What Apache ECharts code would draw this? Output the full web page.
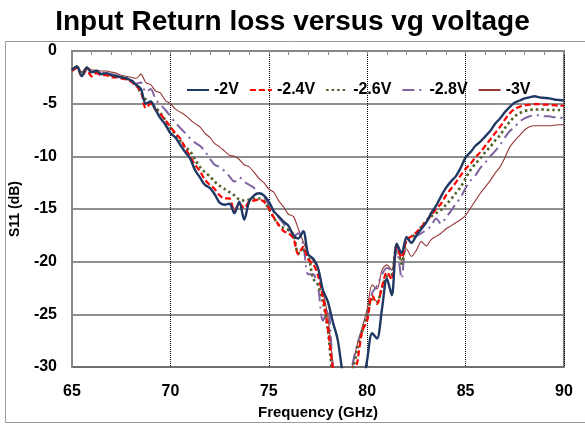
<!DOCTYPE html>
<html>
<head>
<meta charset="utf-8">
<script src="https://cdn.jsdelivr.net/npm/echarts@6/dist/echarts.min.js"></script>
<style>
html,body{margin:0;padding:0;background:#fff;}
#chart{width:585px;height:425px;}
</style>
</head>
<body>
<div id="chart"></div>
<script>
const freq = [65,65.25,65.5,65.75,66,66.25,66.5,66.75,67,67.25,67.5,67.75,68,68.25,68.5,68.75,69,69.25,69.5,69.75,
70,70.25,70.5,70.75,71,71.25,71.5,71.75,72,72.25,72.5,72.75,73,73.25,73.5,73.75,74,74.25,74.5,74.75,
75,75.25,75.5,75.75,76,76.25,76.5,76.75,77,77.25,77.5,77.75,78,78.25,78.5,78.75,79,79.25,79.5,79.75,
80,80.25,80.5,80.75,81,81.25,81.5,81.75,82,82.25,82.5,82.75,83,83.25,83.5,83.75,84,84.25,84.5,84.75,
85,85.25,85.5,85.75,86,86.25,86.5,86.75,87,87.25,87.5,87.75,88,88.25,88.5,88.75,89,89.25,89.5,89.75,90];

const v20 = [-1.8,-1.5,-2.4,-1.6,-2.0,-1.9,-2.2,-2.1,-2.3,-2.4,-2.5,-2.6,-2.8,-3.2,-3.6,-5.0,-4.8,-5.6,-6.4,-7.0,
-7.8,-8.2,-8.9,-9.6,-10.2,-11.3,-12.0,-12.7,-13.0,-13.6,-14.4,-14.6,-14.5,-15.4,-14.3,-16.0,-14.3,-13.7,-13.5,-13.7,
-14.3,-15.2,-15.7,-16.2,-16.6,-17.5,-17.8,-17.1,-19.3,-19.7,-20.6,-22.7,-23.8,-25.7,-27.4,-30.5,-32,-33,-33,-32,
-29.3,-26.8,-27.3,-24.5,-21.6,-23.2,-18.3,-19.2,-17.7,-18.2,-17.5,-16.9,-16.3,-15.4,-14.7,-13.8,-13.0,-12.4,-11.9,-11.1,
-10.1,-9.6,-9.0,-8.6,-8.1,-7.6,-6.9,-6.4,-5.8,-5.3,-4.9,-4.7,-4.5,-4.4,-4.3,-4.4,-4.45,-4.5,-4.6,-4.65,-4.7];

const v24 = [-1.9,-1.6,-2.4,-1.8,-2.4,-2.1,-2.3,-2.3,-2.5,-2.5,-2.6,-2.7,-2.9,-3.3,-3.8,-5.4,-5.0,-5.6,-6.0,-6.6,
-7.2,-7.8,-8.3,-9.2,-10.0,-10.8,-11.4,-12.2,-12.7,-13.1,-13.7,-14.0,-14.0,-15.2,-14.5,-14.9,-14.3,-14.2,-14.1,-14.3,
-14.9,-15.8,-16.5,-17.1,-17.3,-17.8,-19.3,-18.6,-19.8,-20.2,-21.3,-23.4,-26.3,-30.1,-33,-34,-34,-32,-29.5,-26.6,
-25.6,-23.2,-24.0,-22.4,-21.0,-21.7,-18.6,-19.6,-17.9,-17.6,-17.2,-16.7,-16.2,-15.6,-15.0,-14.5,-13.7,-13.1,-12.5,-11.8,
-11.2,-10.7,-10.1,-9.6,-9.0,-8.4,-7.8,-7.2,-6.5,-5.9,-5.5,-5.3,-5.15,-5.1,-5.05,-5.05,-5.1,-5.1,-5.15,-5.2,-5.2];

const v26 = [-1.8,-1.5,-2.2,-1.6,-2.1,-2.0,-2.2,-2.2,-2.3,-2.4,-2.5,-2.6,-2.8,-3.2,-4.0,-4.6,-5.0,-5.4,-5.9,-6.6,
-7.3,-7.9,-8.5,-9.1,-9.5,-10.3,-11.0,-11.5,-11.9,-12.4,-12.8,-13.1,-13.4,-13.7,-14.1,-14.2,-14.1,-14.0,-14.0,-14.2,
-15.0,-15.8,-16.5,-16.8,-17.0,-17.4,-19.2,-18.9,-19.4,-21.6,-22.2,-23.8,-26.5,-31,-33,-34,-33,-30.5,-28.3,-26.6,
-25.0,-23.6,-23.8,-22.5,-21.4,-21.2,-18.4,-20.2,-17.9,-17.7,-17.3,-16.7,-16.1,-15.7,-15.4,-15.1,-14.6,-14.1,-13.5,-12.9,
-12.1,-11.3,-10.7,-10.2,-9.6,-9.1,-8.5,-8.0,-7.3,-6.7,-6.2,-5.9,-5.7,-5.6,-5.55,-5.55,-5.55,-5.6,-5.6,-5.6,-5.6];

const v28 = [-1.8,-1.5,-2.2,-1.6,-2.0,-1.9,-2.1,-2.0,-2.2,-2.3,-2.4,-2.5,-2.7,-3.1,-3.0,-3.9,-3.6,-4.6,-5.1,-5.6,
-6.2,-6.8,-7.3,-7.8,-8.3,-8.7,-9.0,-9.5,-10.2,-10.8,-11.0,-11.4,-11.9,-12.4,-12.0,-12.4,-12.7,-13.0,-13.5,-13.8,
-14.6,-15.3,-15.8,-16.4,-17.0,-17.6,-17.3,-18.4,-21.2,-21.2,-22.4,-25.6,-24.5,-29.8,-33,-34,-33,-29.8,-27.8,-26.5,
-25.2,-23.0,-22.3,-21.2,-20.6,-20.8,-18.9,-21.6,-17.6,-18.2,-17.6,-17.3,-17.0,-16.6,-15.9,-16.4,-15.8,-15.2,-14.5,-13.9,
-13.0,-12.3,-11.8,-11.1,-10.6,-10.0,-9.5,-8.9,-8.2,-7.6,-7.2,-6.7,-6.4,-6.2,-6.1,-6.1,-6.2,-6.2,-6.3,-6.3,-6.4];

const v30 = [-1.7,-1.4,-2.0,-1.5,-1.8,-1.8,-1.9,-1.9,-2.0,-2.1,-2.3,-2.4,-2.5,-2.6,-2.2,-3.0,-3.2,-3.8,-4.0,-4.7,
-5.0,-5.5,-5.8,-6.1,-6.5,-6.9,-7.2,-7.8,-8.2,-8.8,-9.1,-9.5,-9.9,-10.0,-10.3,-10.8,-11.0,-11.5,-12.1,-12.5,
-13.1,-13.4,-14.2,-14.8,-15.5,-15.7,-16.9,-18.1,-19.2,-19.9,-20.6,-22.8,-25.2,-29.5,-33,-34,-33,-30.0,-27.8,-26.2,
-24.5,-22.2,-22.6,-20.8,-20.3,-20.8,-18.3,-19.9,-18.8,-19.5,-18.9,-18.1,-18.5,-17.9,-17.6,-17.3,-16.9,-16.6,-16.3,-16.0,
-15.6,-14.9,-14.2,-13.5,-12.9,-12.3,-11.6,-11.0,-10.1,-9.1,-8.5,-8.0,-7.5,-7.2,-7.1,-7.1,-7.1,-7.1,-7.05,-7.0,-7.0];

const seriesNames = ['-2V','-2.4V','-2.6V','-2.8V','-3V'];
const seriesValues = [v20, v24, v26, v28, v30];
const xTicks = [65,70,75,80,85,90];
const yTicks = [0,-5,-10,-15,-20,-25,-30];

const styles = [
  {color:'#1F3864', width:2.4, type:'solid'},
  {color:'#FF0000', width:2.2, type:[6,3]},
  {color:'#4F6228', width:2.6, type:[2.5,3]},
  {color:'#8064A2', width:2, type:[12,5,2,5]},
  {color:'#953735', width:1.1, type:'solid'}
];

const FONT = 'Arial, "Liberation Sans", sans-serif';
const chart = echarts.init(document.getElementById('chart'), null, {renderer:'canvas'});

const series = seriesNames.map((n,i)=>({
  name:n, type:'line', symbol:'none', showSymbol:false, smooth:0.3, clip:true,
  data: freq.map((f,k)=>[f, seriesValues[i][k]]),
  lineStyle:{color:styles[i].color, width:styles[i].width, type:styles[i].type},
  itemStyle:{color:styles[i].color},
  z: 10 - i
}));

chart.setOption({
  animation:false,
  backgroundColor:'#fff',
  title:{text:'Input Return loss versus vg voltage', left:'center', top:3,
    textStyle:{fontFamily:FONT, fontWeight:'bold', fontSize:28, color:'#000'}},
  graphic:[{type:'rect', shape:{x:5.5, y:41.5, width:600, height:381}, style:{fill:'none', stroke:'#9a9a9a', lineWidth:1}, silent:true, z:-10}],
  legend:{data:seriesNames, left:181, top:77, itemWidth:22, itemHeight:14, itemGap:10,
    itemStyle:{opacity:0, color:'rgba(0,0,0,0)', borderWidth:0},
    textStyle:{fontFamily:FONT, fontWeight:'bold', fontSize:16, color:'#000'}},
  grid:{left:70, right:21, top:51, bottom:58, show:true, borderColor:'#555', borderWidth:1.5},
  xAxis:{type:'value', min:65, max:90, interval:5,
    name:'Frequency (GHz)', nameLocation:'middle', nameGap:37,
    nameTextStyle:{fontFamily:FONT, fontWeight:'bold', fontSize:15, color:'#000'},
    axisLine:{show:true, lineStyle:{color:'#888', width:2}},
    axisTick:{show:true, length:4, lineStyle:{color:'#888'}},
    minorTick:{show:true, splitNumber:5, length:4, lineStyle:{color:'#888'}},
    axisLabel:{fontFamily:FONT, fontWeight:'bold', fontSize:16, color:'#000', margin:17,
      formatter:v=> xTicks.includes(v) ? String(v) : ''},
    splitLine:{show:true, lineStyle:{color:'#000', width:1, type:[1,1]}}
  },
  yAxis:{type:'value', min:-30, max:0, interval:5,
    name:'S11 (dB)', nameLocation:'middle', nameGap:50, nameRotate:90,
    nameTextStyle:{fontFamily:FONT, fontWeight:'bold', fontSize:14, color:'#000'},
    axisLine:{show:true, lineStyle:{color:'#888', width:2}},
    axisTick:{show:false},
    axisLabel:{fontFamily:FONT, fontWeight:'bold', fontSize:16, color:'#000', margin:15,
      formatter:v=> yTicks.includes(v) ? String(v) : ''},
    splitLine:{show:true, lineStyle:{color:'#6a6a6a', width:1.5}}
  },
  series: series
});
</script>
</body>
</html>
